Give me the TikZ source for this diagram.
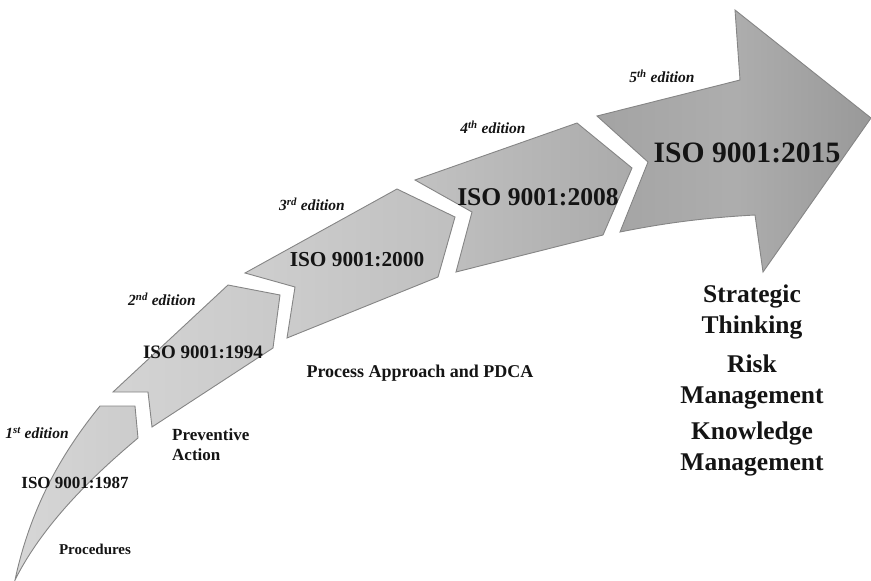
\documentclass[tikz,border=0pt]{standalone}
\usepackage{fontspec}
\setmainfont{Liberation Serif}
\begin{document}
\begin{tikzpicture}[x=1pt,y=-1pt,
  seg/.style={draw=black!48, line width=0.9pt, line join=miter},
  lbl/.style={inner sep=0pt, text=black!92, font=\bfseries},
  edlbl/.style={inner sep=0pt, text=black!92, font=\fontsize{15.5}{17}\selectfont\bfseries\itshape},
  sidelbl/.style={inner sep=0pt, text=black!92, align=center,
    font=\fontsize{25.5}{31}\selectfont\bfseries}]
\useasboundingbox (0,0) rectangle (871,581);

% 1st edition: curved tail
\path[seg, left color=black!16, right color=black!20]
  (100,406) -- (135,406) -- (138,438)
  .. controls (100,470) and (45,520) .. (15,580)
  .. controls (30,510) and (60,455) .. cycle;

% 2nd edition
\path[seg, left color=black!17, right color=black!21]
  (113,392) -- (228,285) -- (280,295) -- (273,348) -- (152,427) -- (148,392) -- cycle;

% 3rd edition
\path[seg, left color=black!19, right color=black!25]
  (245,273) -- (397,189) -- (455,217) -- (438,277) -- (287,338) -- (295,287) -- cycle;

% 4th edition
\path[seg, left color=black!24, right color=black!33]
  (415,180) -- (577,123) -- (632,168) -- (603,235) -- (456,272) -- (472,212) -- cycle;

% 5th edition: arrow head
\path[seg, left color=black!36, right color=black!40, middle color=black!32]
  (597,116) -- (740,80) -- (735,10) -- (871,118) -- (763,272) -- (755,215)
  .. controls (700,218) and (660,224) .. (620,232) -- (648,162) -- cycle;

% edition labels
\node[edlbl] (ed1) at (37,433) {1\textsuperscript{st} edition};
\node[edlbl] (ed2) at (162,299) {2\textsuperscript{nd} edition};
\node[edlbl] (ed3) at (312,204) {3\textsuperscript{rd} edition};
\node[edlbl] (ed4) at (493,127) {4\textsuperscript{th} edition};
\node[edlbl] (ed5) at (662,76) {5\textsuperscript{th} edition};

% standard names
\node[lbl, font=\fontsize{17}{20}\selectfont\bfseries] (s1987) at (75,483) {ISO 9001:1987};
\node[lbl, font=\fontsize{19}{22}\selectfont\bfseries] (s1994) at (203,352) {ISO 9001:1994};
\node[lbl, font=\fontsize{21.3}{25}\selectfont\bfseries] (s2000) at (357,260) {ISO 9001:2000};
\node[lbl, font=\fontsize{25.6}{30}\selectfont\bfseries] (s2008) at (538,197) {ISO 9001:2008};
\node[lbl, font=\fontsize{29.6}{34}\selectfont\bfseries] (s2015) at (747,153) {ISO 9001:2015};

% key concepts
\node[lbl, font=\fontsize{15}{18}\selectfont\bfseries] (proc) at (95,549) {Procedures};
\node[lbl, anchor=west, align=left, font=\fontsize{17}{20}\selectfont\bfseries]
  (prev) at (172,445) {Preventive\\Action};
\node[lbl, font=\fontsize{18}{21}\selectfont\bfseries] (pdca) at (420,373) {Process Approach and PDCA};
\node[sidelbl] (strat) at (752,312) {Strategic\\Thinking};
\node[sidelbl] (risk) at (752,382) {Risk\\Management};
\node[sidelbl] (know) at (752,449) {Knowledge\\Management};
\end{tikzpicture}
\end{document}
